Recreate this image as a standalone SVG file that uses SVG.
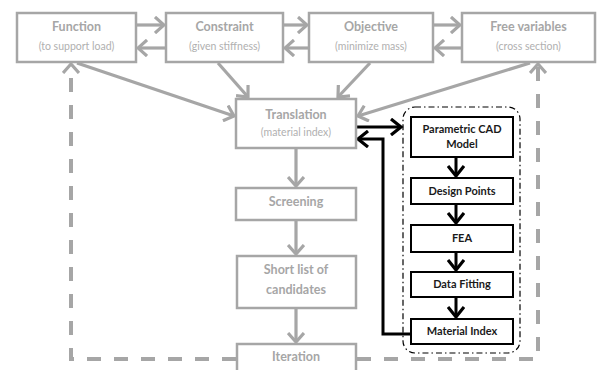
<svg xmlns="http://www.w3.org/2000/svg" width="597" height="370" viewBox="0 0 597 370">
<defs>
<marker id="ag" viewBox="0 0 12 18" markerWidth="12" markerHeight="18" refX="10" refY="9" orient="auto" markerUnits="userSpaceOnUse">
<path d="M1,1 L10,9 L1,17" fill="none" stroke="#a6a6a6" stroke-width="3.2"/>
</marker>
<marker id="ab" viewBox="0 0 14 18" markerWidth="14" markerHeight="18" refX="11" refY="9" orient="auto" markerUnits="userSpaceOnUse">
<path d="M1,1 L11,9 L1,17" fill="none" stroke="#000" stroke-width="3.2"/>
</marker>
</defs>
<style>
.gb{fill:#fff;stroke:#a6a6a6;stroke-width:2.5}
.bb{fill:#fff;stroke:#000;stroke-width:2}
.gt{font-family:Lato,"Liberation Sans",sans-serif;font-weight:bold;font-size:12.5px;fill:#a6a6a6;text-anchor:middle}
.gs{font-family:Lato,"Liberation Sans",sans-serif;font-size:10.5px;fill:#b0b0b0;text-anchor:middle}
.bt{font-family:Lato,"Liberation Sans",sans-serif;font-weight:bold;font-size:11px;fill:#1a1a1a;text-anchor:middle}
.ga{fill:none;stroke:#a6a6a6;stroke-width:3.2;marker-end:url(#ag)}
.gd{fill:none;stroke:#a6a6a6;stroke-width:4;stroke-dasharray:14,13;marker-end:url(#ag)}
.ba{fill:none;stroke:#000;stroke-width:3;marker-end:url(#ab)}
</style>
<rect width="597" height="370" fill="#fff"/>
<g id="connectors">
<line class="ga" x1="136" y1="25" x2="164" y2="25"/>
<line class="ga" x1="166" y1="48" x2="138" y2="48"/>
<line class="ga" x1="283" y1="25" x2="307" y2="25"/>
<line class="ga" x1="309" y1="48" x2="285" y2="48"/>
<line class="ga" x1="433" y1="25" x2="460" y2="25"/>
<line class="ga" x1="462" y1="48" x2="435" y2="48"/>
<line class="ga" x1="77" y1="63" x2="234" y2="116"/>
<line class="ga" x1="218" y1="63" x2="248" y2="97"/>
<line class="ga" x1="370" y1="63" x2="338" y2="97"/>
<line class="ga" x1="530" y1="63" x2="358" y2="116"/>
<line class="ga" x1="296" y1="148" x2="296" y2="186"/>
<line class="ga" x1="296" y1="220" x2="296" y2="254"/>
<line class="ga" x1="296" y1="308" x2="296" y2="342"/>
<path class="gd" d="M236,359 H71 V64"/>
<path class="gd" d="M357,359 H538 V64"/>
<line class="ba" x1="356" y1="127" x2="401" y2="127"/>
<path class="ba" d="M412,334 H383 V139 H358"/>
<line class="ba" x1="456" y1="157" x2="456" y2="176"/>
<line class="ba" x1="456" y1="204" x2="456" y2="223"/>
<line class="ba" x1="456" y1="252" x2="456" y2="270"/>
<line class="ba" x1="456" y1="297" x2="456" y2="317"/>
</g>
<g id="function"><rect class="gb" x="17" y="13" width="119" height="49"/><text class="gt" x="76.5" y="31">Function</text><text class="gs" x="76.5" y="50">(to support load)</text></g>
<g id="constraint"><rect class="gb" x="166" y="13" width="117" height="49"/><text class="gt" x="224.5" y="31">Constraint</text><text class="gs" x="224.5" y="50">(given stiffness)</text></g>
<g id="objective"><rect class="gb" x="309" y="13" width="124" height="49"/><text class="gt" x="371" y="31">Objective</text><text class="gs" x="371" y="50">(minimize mass)</text></g>
<g id="freevars"><rect class="gb" x="462" y="13" width="133" height="49"/><text class="gt" x="528.5" y="31">Free variables</text><text class="gs" x="528.5" y="50">(cross section)</text></g>
<g id="translation"><rect class="gb" x="236" y="99" width="120" height="49"/><text class="gt" x="296" y="119">Translation</text><text class="gs" x="296" y="136">(material index)</text></g>
<g id="screening"><rect class="gb" x="236" y="188" width="120" height="32"/><text class="gt" x="296" y="206">Screening</text></g>
<g id="shortlist"><rect class="gb" x="237" y="256" width="119" height="52"/><text class="gt" x="296" y="274">Short list of</text><text class="gt" x="296" y="294">candidates</text></g>
<g id="iteration"><rect class="gb" x="237" y="344" width="119" height="40"/><text class="gt" x="296" y="361">Iteration</text></g>
<g id="container"><rect x="403" y="107" width="117" height="246" rx="12" fill="none" stroke="#000" stroke-width="1.2" stroke-dasharray="6,3,1.5,3"/></g>
<g id="cad"><rect class="bb" x="411" y="117" width="102" height="40"/><text class="bt" x="462" y="133">Parametric CAD</text><text class="bt" x="462" y="148">Model</text></g>
<g id="designpoints"><rect class="bb" x="411" y="178" width="102" height="26"/><text class="bt" x="462" y="195">Design Points</text></g>
<g id="fea"><rect class="bb" x="411" y="225" width="102" height="27"/><text class="bt" x="462" y="242">FEA</text></g>
<g id="datafitting"><rect class="bb" x="411" y="272" width="102" height="25"/><text class="bt" x="462" y="288">Data Fitting</text></g>
<g id="materialindex"><rect class="bb" x="411" y="319" width="102" height="25"/><text class="bt" x="462" y="335">Material Index</text></g>
</svg>
